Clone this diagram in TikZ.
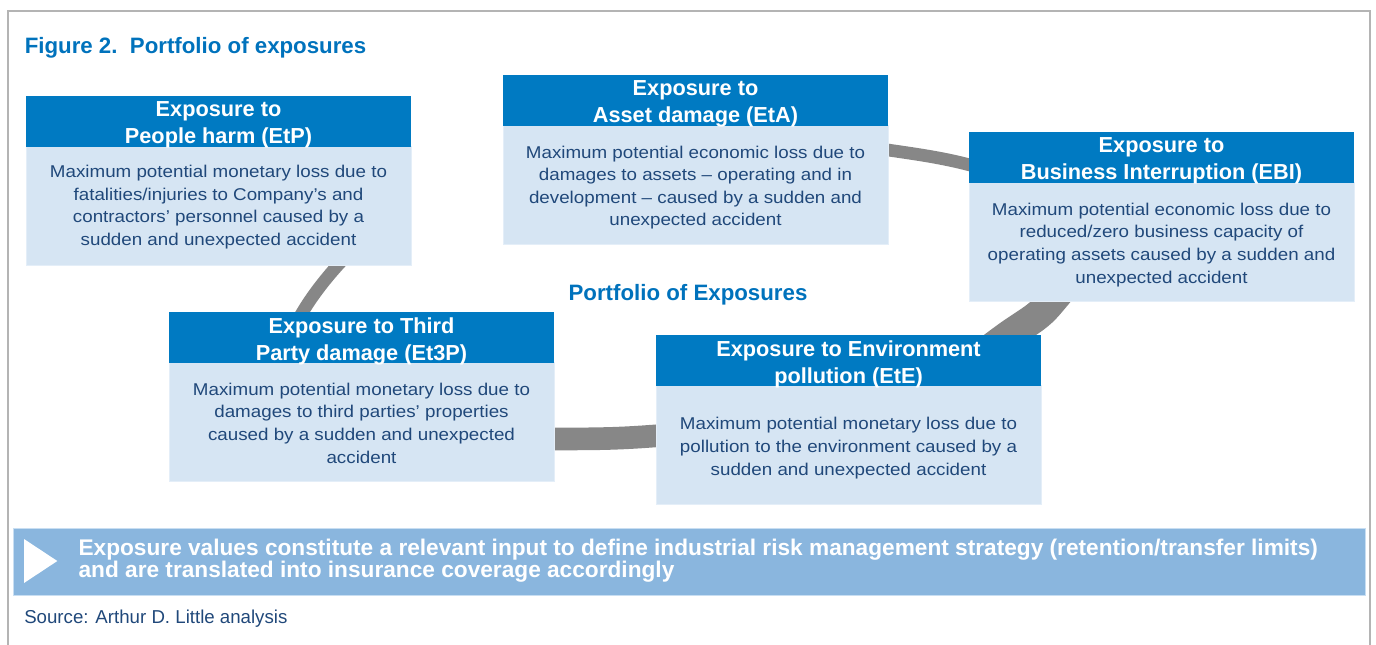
\documentclass[tikz,border=0pt]{standalone}
\usepackage{fontspec}
\setmainfont{Liberation Sans}
\newfontfamily\bodyfont{Liberation Sans}[FakeStretch=1.1]
\definecolor{hblue}{RGB}{0,122,194}
\definecolor{bfill}{RGB}{214,229,243}
\definecolor{bline}{RGB}{228,238,248}
\definecolor{dtext}{RGB}{32,72,122}
\definecolor{tblue}{RGB}{0,114,188}
\definecolor{banblue}{RGB}{138,182,222}
\definecolor{banline}{RGB}{200,222,242}
\definecolor{bandgray}{RGB}{135,135,135}
\definecolor{framegray}{RGB}{180,180,180}
\tikzset{
  hdr/.style={rectangle, fill=hblue, inner sep=0pt, outer sep=0pt, anchor=north west,
    minimum width=288.75pt, minimum height=38.25pt},
  bdy/.style={rectangle, fill=bfill, draw=bline, line width=0.75pt, inner sep=0pt, outer sep=0pt,
    anchor=north west, minimum width=288.75pt, minimum height=89.25pt},
  htxt/.style={anchor=base, align=center, text=white, inner sep=0pt,
    font=\fontsize{16.3pt}{20.25pt}\selectfont\bfseries},
  btxt/.style={anchor=base, align=center, text=dtext, inner sep=0pt,
    font=\bodyfont\fontsize{12.8pt}{16.9pt}\selectfont},
  bandc/.style={draw=bandgray, line cap=butt, line join=round},
  frameline/.style={draw=framegray, line width=1.5pt},
  bigtitle/.style={text=tblue, inner sep=0pt, font=\fontsize{16.7pt}{20pt}\selectfont\bfseries},
  banner/.style={rectangle, fill=banblue, draw=banline, line width=1pt, inner sep=0pt,
    anchor=north west, minimum width=1014.2pt, minimum height=50.5pt},
  bantxt/.style={anchor=base west, align=left, text=white, inner sep=0pt,
    font=\fontsize{17pt}{15.75pt}\selectfont\bfseries},
  srctxt/.style={anchor=base west, text=dtext, inner sep=0pt,
    font=\fontsize{14pt}{16pt}\selectfont}
}
\newcommand\ringcurve[1]{%
  \draw[bandc, line width=#1] plot[smooth, tension=0.6] coordinates {
    (390,215) (338,265) (302,313) (282,360) (320,412) (430,437) (553,439)
    (654,436) (800,420) (930,385) (1012,333) (1050,303) (1082,250)
    (1060,195) (970,165) (888,150) (800,140)};}
% #6 = baseline of the LAST body line, measured from the header top
\newcommand\expbox[6]{%
  \node[bdy] (#1-b) at (#2,#3+50.5) {};
  \node[hdr] (#1-h) at (#2,#3) {};
  \node[htxt] (#1-ht) at (#2+192.5,#3+48) {#4};
  \node[btxt] (#1-bt) at (#2+192.5,#3+#6) {#5};
}
\begin{document}
\begin{tikzpicture}[x=0.75pt, y=-0.75pt]
\useasboundingbox (0,0) rectangle (1376,645);
% frame
\draw[frameline] (8,645) -- (8,11) -- (1370,11) -- (1370,645);
% title
\node[bigtitle, anchor=base west] (title) at (24.5,53.3) {Figure 2.\ \ Portfolio of exposures};
% ring band (thin at the back, thick at the front)
\begin{scope}
  \clip (0,0) rectangle (1376,340);
  \ringcurve{9.5pt}
\end{scope}
\begin{scope}
  \clip (0,340) rectangle (1376,645);
  \ringcurve{17pt}
\end{scope}
\begin{scope}
  \clip (600,295) rectangle (1376,345);
  \ringcurve{22.5pt}
\end{scope}
% centre label
\node[bigtitle, anchor=base] (pf) at (688,300.5) {Portfolio of Exposures};
% boxes
\expbox{etp}{26}{96}{Exposure to\\People harm (EtP)}{Maximum potential monetary loss due to\\fatalities/injuries to Company’s and\\contractors’ personnel caused by a\\sudden and unexpected accident}{149.5}
\expbox{eta}{503}{75}{Exposure to\\Asset damage (EtA)}{Maximum potential economic loss due to\\damages to assets – operating and in\\development – caused by a sudden and\\unexpected accident}{151}
\expbox{ebi}{969}{132}{Exposure to\\Business Interruption (EBI)}{Maximum potential economic loss due to\\reduced/zero business capacity of\\operating assets caused by a sudden and\\unexpected accident}{151}
\expbox{etthree}{169}{312}{Exposure to Third\\Party damage (Et3P)}{Maximum potential monetary loss due to\\damages to third parties’ properties\\caused by a sudden and unexpected\\accident}{151}
\expbox{ete}{656}{335}{Exposure to Environment\\pollution (EtE)}{Maximum potential monetary loss due to\\pollution to the environment caused by a\\sudden and unexpected accident}{140}
% banner
\node[banner] (ban) at (12.7,527.7) {};
\fill[white] (24,539) -- (24,583) -- (57.3,561) -- cycle;
\node[bantxt] (bant) at (78.3,577.7) {Exposure values constitute a relevant input to define industrial risk management strategy (retention/transfer limits)\\and are translated into insurance coverage accordingly};
% source
\node[srctxt] (src) at (24,623.3) {Source: Arthur D. Little analysis};
\end{tikzpicture}
\end{document}
